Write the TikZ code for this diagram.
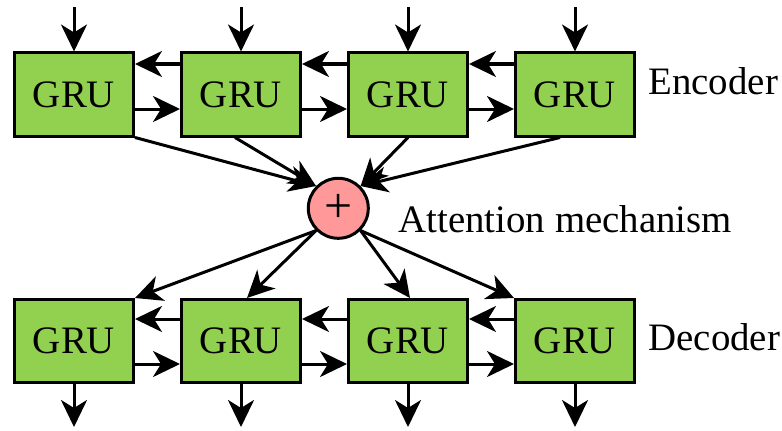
\documentclass[tikz,border=0pt]{standalone}
\usepackage{fontspec}
\setmainfont{Liberation Serif}
\usetikzlibrary{positioning}
\usetikzlibrary{calc}
\usetikzlibrary{arrows.meta}
\definecolor{grugreen}{RGB}{146,208,80}
\definecolor{sumpink}{RGB}{255,153,153}

\begin{document}
\begin{tikzpicture}[->,>={Stealth[length=27bp,width=26bp,inset=8bp]},x=1bp,y=1bp,
			line width=3bp,font=\fontsize{39}{47}\selectfont]
			\tikzstyle{gru}=[draw,fill=grugreen,minimum width=119bp,minimum height=83bp,inner sep=0pt]
			\tikzstyle{sum}=[draw,circle,fill=sumpink,minimum size=60bp,inner sep=0pt,font=\fontsize{50}{50}\selectfont]
			\tikzstyle{sidetext}=[anchor=base west,inner sep=0pt]
			
			\useasboundingbox (0,0) rectangle (782,430);
			
			\node[gru]         (e1) at (74,335.5)        {GRU};
			\node[gru]         (e2) [right=45bp of e1]  {GRU};
			\node[gru]         (e3) [right=45bp of e2]  {GRU};
			\node[gru]         (e4) [right=45bp of e3]  {GRU};
			\node[gru]         (d1) at (74,89)           {GRU};
			\node[gru]         (d2) [right=45bp of d1]  {GRU};
			\node[gru]         (d3) [right=45bp of d2]  {GRU};
			\node[gru]         (d4) [right=45bp of d3]  {GRU};
			\node[sum]         (att) at (338.3,221.7)    {+};
			
			\node[sidetext]    (enc) at (647,336)        {Encoder};
			\node[sidetext]    (atttext) at (397,198)    {Attention mechanism};
			\node[sidetext]    (dec) at (647,80)         {Decoder};
			
			% inputs and outputs
			\foreach \i in {1,...,4} {
				\coordinate[above=44bp of e\i.north] (in\i);
				\coordinate[below=43bp of d\i.south] (out\i);
				\draw (in\i) -- (e\i);
				\draw (d\i) -- (out\i);
			}
			
			% links between neighbours
			\foreach \i/\j in {1/2,2/3,3/4} {
				\draw ([yshift=30.5bp]e\j.west) -- ([yshift=30.5bp]e\i.east);
				\draw ([yshift=-14.5bp]e\i.east) -- ([yshift=-14.5bp]e\j.west);
				\draw ([yshift=22bp]d\j.west) -- ([yshift=22bp]d\i.east);
				\draw ([yshift=-23bp]d\i.east) -- ([yshift=-23bp]d\j.west);
			}
			
			\draw (e1.south east) -- (att.north west);
			\draw ([xshift=-6bp]e2.south) -- (att.north west);
			\draw (e3.south) -- (att.north east);
			\draw ([xshift=-15bp]e4.south) -- (att.north east);
			\draw (att.south west) -- (d1.north east);
			\draw (att.south west) -- ([xshift=6bp]d2.north);
			\draw (att.south east) -- ([xshift=2bp]d3.north);
			\draw (att.south east) -- (d4.north west);
			
\end{tikzpicture}
\end{document}
